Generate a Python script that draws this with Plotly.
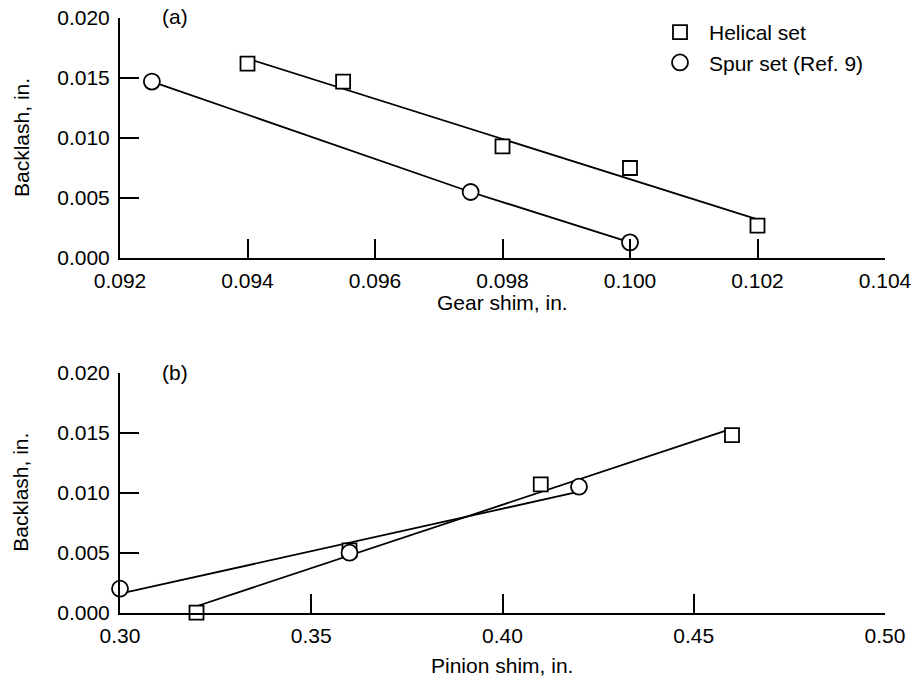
import numpy as np
import plotly.graph_objects as go

# ---- data (a) gear shim ----
helical_a_x = [0.094, 0.0955, 0.098, 0.100, 0.102]
helical_a_y = [0.0162, 0.0147, 0.0093, 0.0075, 0.0027]
spur_a_x = [0.0925, 0.0975, 0.100]
spur_a_y = [0.0147, 0.0055, 0.0013]

# ---- data (b) pinion shim ----
helical_b_x = [0.32, 0.36, 0.41, 0.46]
helical_b_y = [0.0000, 0.0052, 0.0107, 0.0148]
spur_b_x = [0.30, 0.36, 0.42]
spur_b_y = [0.0020, 0.0050, 0.0105]

y_ticks = [0.000, 0.005, 0.010, 0.015, 0.020]
xa_ticks = [0.092, 0.094, 0.096, 0.098, 0.100, 0.102, 0.104]
xb_ticks = [0.30, 0.35, 0.40, 0.45, 0.50]


def fit_line(x, y):
    k, b = np.polyfit(x, y, 1)
    xs = np.array([min(x), max(x)])
    return xs, k * xs + b


FONT = "Liberation Sans, Arial, sans-serif"
FS = 21
W, H = 915, 681
LW = 1.8

fig = go.Figure()

line_style = dict(color="black", width=LW)
sq = dict(symbol="square", size=14, color="white", line=dict(color="black", width=LW))
ci = dict(symbol="circle", size=16, color="white", line=dict(color="black", width=LW))

# lines first
fx, fy = fit_line(helical_a_x, helical_a_y)
fig.add_trace(go.Scatter(x=fx, y=fy, mode="lines", line=line_style, showlegend=False,
                         xaxis="x", yaxis="y"))
fig.add_trace(go.Scatter(x=spur_a_x, y=spur_a_y, mode="lines", line=line_style, showlegend=False,
                         xaxis="x", yaxis="y"))
fx, fy = fit_line(helical_b_x, helical_b_y)
fig.add_trace(go.Scatter(x=fx, y=fy, mode="lines", line=line_style, showlegend=False,
                         xaxis="x2", yaxis="y2"))
fx, fy = fit_line(spur_b_x, spur_b_y)
fig.add_trace(go.Scatter(x=fx, y=fy, mode="lines", line=line_style, showlegend=False,
                         xaxis="x2", yaxis="y2"))

# markers
fig.add_trace(go.Scatter(x=helical_a_x, y=helical_a_y, mode="markers", marker=sq,
                         name="Helical set", xaxis="x", yaxis="y", cliponaxis=False))
fig.add_trace(go.Scatter(x=spur_a_x, y=spur_a_y, mode="markers", marker=ci,
                         name="Spur set (Ref. 9)", xaxis="x", yaxis="y", cliponaxis=False))
fig.add_trace(go.Scatter(x=helical_b_x, y=helical_b_y, mode="markers", marker=sq,
                         showlegend=False, xaxis="x2", yaxis="y2", cliponaxis=False))
fig.add_trace(go.Scatter(x=spur_b_x, y=spur_b_y, mode="markers", marker=ci,
                         showlegend=False, xaxis="x2", yaxis="y2", cliponaxis=False))


def px_x(p):
    return p / W


def px_y(p):
    return 1 - p / H


x_dom = [px_x(120), px_x(885)]
ya_dom = [px_y(258), px_y(18)]
yb_dom = [px_y(612.7), px_y(372.7)]

axis_common = dict(
    showline=True, linecolor="black", linewidth=2,
    ticks="inside", ticklen=19, tickwidth=2, tickcolor="black",
    showgrid=False, zeroline=False, automargin=False,
    tickfont=dict(family=FONT, size=FS, color="black"),
    ticklabeloverflow="allow",
    mirror=False,
)

fig.update_layout(
    width=W, height=H,
    margin=dict(l=0, r=0, t=0, b=0),
    paper_bgcolor="white", plot_bgcolor="white",
    font=dict(family=FONT, size=FS, color="black"),
    hovermode=False,
    xaxis=dict(domain=x_dom, range=[0.092, 0.104], tickvals=xa_ticks,
               ticktext=[f"{v:.3f}" for v in xa_ticks], anchor="y",
               ticklabelstandoff=3, **axis_common),
    yaxis=dict(domain=ya_dom, range=[0, 0.020], tickvals=y_ticks,
               ticktext=[f"{v:.3f}" for v in y_ticks], anchor="x",
               ticklabelstandoff=4, **axis_common),
    xaxis2=dict(domain=x_dom, range=[0.30, 0.50], tickvals=xb_ticks,
                ticktext=[f"{v:.2f}" for v in xb_ticks], anchor="y2",
                ticklabelstandoff=3, **axis_common),
    yaxis2=dict(domain=yb_dom, range=[0, 0.020], tickvals=y_ticks,
                ticktext=[f"{v:.3f}" for v in y_ticks], anchor="x2",
                ticklabelstandoff=4, **axis_common),
    showlegend=True,
    legend=dict(x=px_x(651), y=px_y(12), xanchor="left", yanchor="top",
                bgcolor="rgba(0,0,0,0)", borderwidth=0, itemwidth=48,
                font=dict(family=FONT, size=FS, color="black")),
)

ann_font = dict(family=FONT, size=FS, color="black")
annotations = [
    dict(text="(a)", xref="x domain", yref="y domain", x=54.5 / 765, y=1,
         xanchor="center", yanchor="middle", yshift=1, showarrow=False, font=ann_font),
    dict(text="(b)", xref="x2 domain", yref="y2 domain", x=54.5 / 765, y=1,
         xanchor="center", yanchor="middle", yshift=0, showarrow=False, font=ann_font),
    dict(text="Gear shim, in.", xref="x domain", yref="y domain", x=0.5, y=0,
         xanchor="center", yanchor="middle", yshift=-44, showarrow=False, font=ann_font),
    dict(text="Pinion shim, in.", xref="x2 domain", yref="y2 domain", x=0.5, y=0,
         xanchor="center", yanchor="middle", yshift=-53, showarrow=False, font=ann_font),
    dict(text="Backlash, in.", xref="paper", yref="y domain", x=px_x(21), y=0.5,
         xanchor="center", yanchor="middle", textangle=-90, showarrow=False, font=ann_font),
    dict(text="Backlash, in.", xref="paper", yref="y2 domain", x=px_x(21), y=0.5,
         xanchor="center", yanchor="middle", textangle=-90, showarrow=False, font=ann_font),
]
fig.update_layout(annotations=annotations)

fig.write_html("out.html",
               config={"displayModeBar": False, "staticPlot": True},
               post_script="document.body.style.margin='0';document.body.style.overflow='hidden';")
